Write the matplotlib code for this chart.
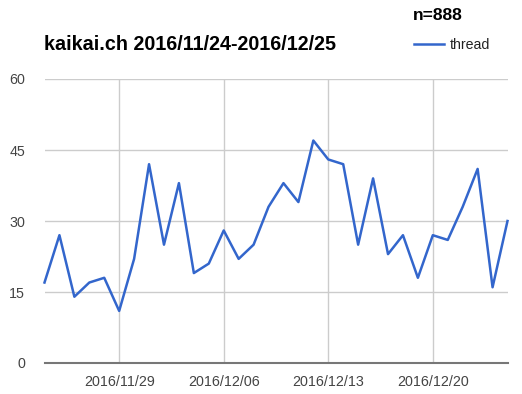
import matplotlib
matplotlib.use('Agg')
import matplotlib.pyplot as plt
import matplotlib.dates as mdates
import pandas as pd

# daily thread counts, 2016/11/24 - 2016/12/25
start_date = '2016-11-24'
end_date = '2016-12-25'
threads = [17, 27, 14, 17, 18, 11, 22, 42, 25, 38, 19, 21, 28, 22, 25, 33,
           38, 34, 47, 43, 42, 25, 39, 23, 27, 18, 27, 26, 33, 41, 16, 30]
tick_dates = ['2016-11-29', '2016-12-06', '2016-12-13', '2016-12-20']
y_ticks = [0, 15, 30, 45, 60]

plt.rcParams['font.family'] = ['Liberation Sans', 'DejaVu Sans']

dates = pd.date_range(start_date, end_date, freq='D')

fig = plt.figure(figsize=(5.22, 3.94), dpi=100)
ax = fig.add_axes([44.5 / 522, 1 - 363 / 394, 463 / 522, 284 / 394])

ax.plot(dates, threads, color='#3366cc', linewidth=1.8, label='thread',
        clip_on=False)

ax.set_xlim(dates[0], dates[-1])
ax.set_ylim(0, 60)
ax.set_yticks(y_ticks)
ax.set_xticks(pd.to_datetime(tick_dates))
ax.xaxis.set_major_formatter(mdates.DateFormatter('%Y/%m/%d'))

ax.grid(color='#cccccc', linewidth=1)
ax.set_axisbelow(True)
for s in ['top', 'right', 'left']:
    ax.spines[s].set_visible(False)
ax.spines['bottom'].set_color('#777777')
ax.spines['bottom'].set_linewidth(1.5)
ax.tick_params(length=0, labelsize=10.3, colors='#444444')
ax.tick_params(axis='y', pad=14)
ax.tick_params(axis='x', pad=9)

fig.text(44 / 522, 1 - 45 / 394, 'kaikai.ch 2016/11/24-2016/12/25',
         fontsize=14.2, fontweight='bold', va='center', ha='left', color='#000000')
fig.text(413 / 522, 1 - 16 / 394, 'n=888',
         fontsize=12.6, fontweight='bold', va='center', ha='left', color='#000000')

ax.legend(loc='center left', bbox_to_anchor=(414 / 522, 1 - 45 / 394),
          bbox_transform=fig.transFigure, frameon=False, fontsize=10.2,
          borderpad=0, borderaxespad=0,
          handlelength=2.1, handletextpad=0.45, labelcolor='#222222')

fig.savefig('out.png', dpi=100)
plt.close(fig)
